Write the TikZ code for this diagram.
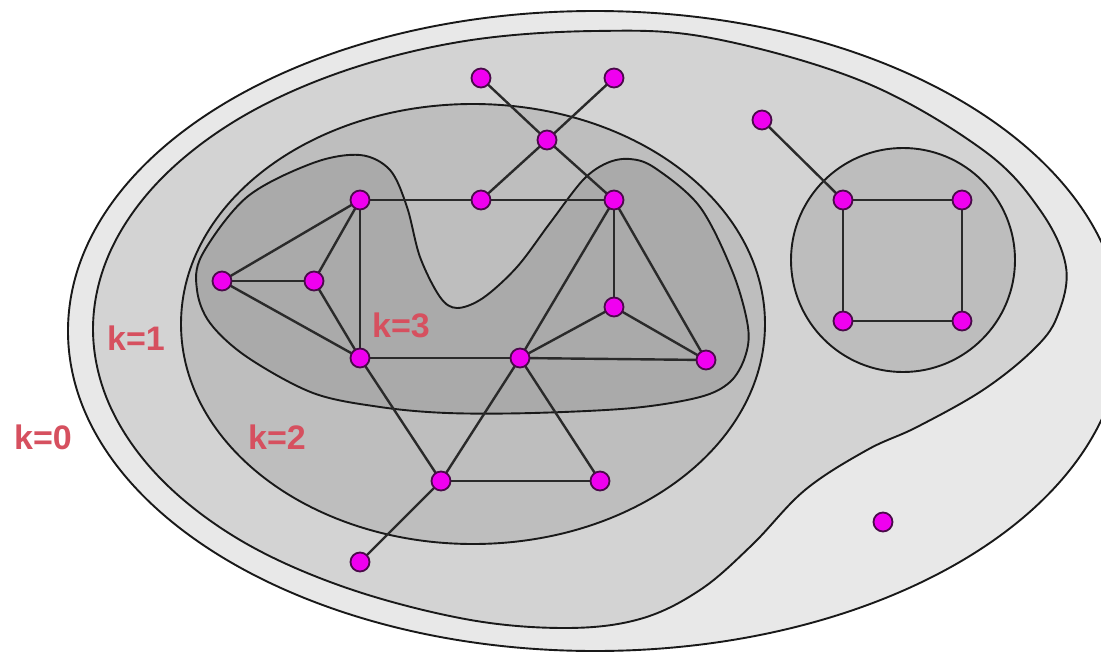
\documentclass[tikz,border=0pt]{standalone}
\usepackage{fontspec}
\setmainfont{Liberation Sans}
\definecolor{ringzero}{HTML}{E8E8E8}
\definecolor{ringone}{HTML}{D3D3D3}
\definecolor{ringtwo}{HTML}{BEBEBE}
\definecolor{ringthree}{HTML}{AAAAAA}
\definecolor{circfill}{HTML}{BDBDBD}
\definecolor{lblred}{HTML}{D6505F}
\definecolor{vfill}{HTML}{F000F0}
\definecolor{vdraw}{HTML}{4A0A4A}
\definecolor{edgecol}{HTML}{2A2A2A}
\pgfdeclarelayer{regionlayer}
\pgfdeclarelayer{edgelayer}
\pgfsetlayers{regionlayer,edgelayer,main}
\begin{document}
\begin{tikzpicture}[x=1pt,y=-1pt,
  boundary/.style={draw=black!90, line width=1.9pt},
  edge/.style={draw=edgecol, line width=2.4pt},
  vertex/.style={circle, fill=vfill, draw=vdraw, line width=1.8pt, minimum size=19pt, inner sep=0pt},
  lbl/.style={text=lblred, font=\fontsize{34}{38}\selectfont\bfseries, inner sep=0pt}]
\useasboundingbox (0,0) rectangle (1101,653);
\begin{pgfonlayer}{regionlayer}
\clip (0,0) rectangle (1101,653);
\fill[white] (0,0) rectangle (1101,653);
% k=0 outer region
\draw[boundary, fill=ringzero] (595,331) ellipse [x radius=527pt, y radius=320pt];
% k=1 region
\draw[boundary, fill=ringone] plot[smooth cycle, tension=0.6] coordinates {
 (595,31) (711,38) (864,82) (983,150) (1040,210) (1066,267) (1057,317) (1033,350)
 (983,390) (917,427) (867,450) (805,490) (752,545) (700,590) (640,619) (565,628)
 (465,619) (344,587) (240,540) (160,478) (110,406) (93,329) (110,252) (160,180)
 (240,118) (344,71) (465,41)};
% k=2 ellipse
\draw[boundary, fill=ringtwo] (473,324) ellipse [x radius=292pt, y radius=220pt];
% k=2 circle on right
\draw[boundary, fill=circfill] (903,260) circle [radius=112pt];
% k=3 blob
\draw[boundary, fill=ringthree] plot[smooth cycle, tension=0.55] coordinates {
 (360,155) (390,170) (407,207) (420,257) (440,297) (457,308) (483,298) (517,267)
 (550,223) (583,180) (607,163) (630,159) (655,168) (700,207) (733,273) (748,327)
 (745,357) (730,382) (700,397) (633,408) (533,413) (447,413) (380,407) (313,393)
 (247,357) (210,323) (197,290) (202,255) (247,197) (313,163)};
\end{pgfonlayer}
% vertices
\node[vertex] (A) at (481,78) {};
\node[vertex] (B) at (614,78) {};
\node[vertex] (C) at (547,140) {};
\node[vertex] (D) at (360,200) {};
\node[vertex] (E) at (481,200) {};
\node[vertex] (F) at (614,200) {};
\node[vertex] (G) at (222,281) {};
\node[vertex] (H) at (314,281) {};
\node[vertex] (I) at (614,307) {};
\node[vertex] (J) at (360,358) {};
\node[vertex] (K) at (520,358) {};
\node[vertex] (L) at (706,360) {};
\node[vertex] (M) at (441,481) {};
\node[vertex] (N) at (600,481) {};
\node[vertex] (O) at (360,562) {};
\node[vertex] (P) at (762,120) {};
\node[vertex] (Q) at (843,200) {};
\node[vertex] (R) at (962,200) {};
\node[vertex] (S) at (843,321) {};
\node[vertex] (T) at (962,321) {};
\node[vertex] (U) at (883,522) {};
% edges
\begin{pgfonlayer}{edgelayer}
\foreach \a/\b in {A/C,B/C,C/E,C/F,D/E,E/F,D/G,D/H,D/J,G/H,G/J,H/J,F/I,F/L,F/K,I/K,I/L,J/K,K/L,J/M,K/M,K/N,M/N,M/O,P/Q,Q/R,R/T,T/S,S/Q}
  \draw[edge] (\a.center) -- (\b.center);
\end{pgfonlayer}
% labels
\node[lbl] (k0) at (43,437) {k=0};
\node[lbl] (k1) at (136,338) {k=1};
\node[lbl] (k2) at (277,437) {k=2};
\node[lbl] (k3) at (401,325) {k=3};
\end{tikzpicture}
\end{document}
